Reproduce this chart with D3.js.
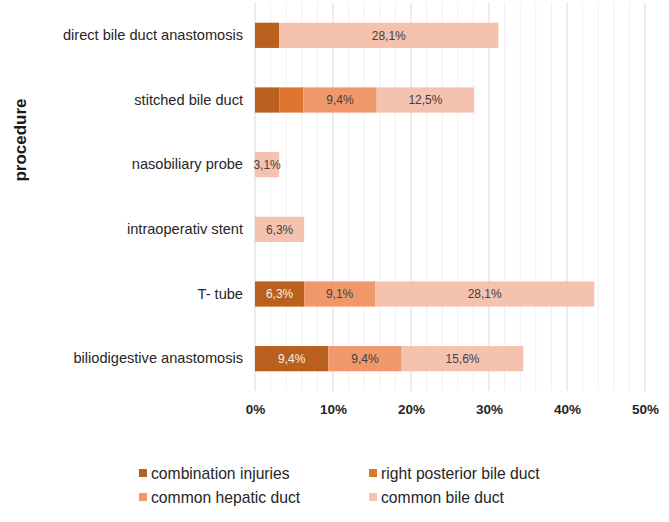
<!DOCTYPE html>
<html lang="en">
<head>
    <meta charset="UTF-8">
    <script src="https://d3js.org/d3.v7.min.js"></script>
    <title>Procedure by injury type</title>
    <style>
        body { margin: 0; background: #fff; }
        svg { display: block; font-family: Arial, "Liberation Sans", sans-serif; }
    </style>
</head>
<body>
    <svg width="669" height="522"></svg>

    <script>
        const procedures = ['direct bile duct anastomosis', 'stitched bile duct', 'nasobiliary probe',
            'intraoperativ stent', 'T- tube', 'biliodigestive anastomosis'];
        const seriesNames = ['combination injuries', 'right posterior bile duct', 'common hepatic duct', 'common bile duct'];
        const seriesColors = ['#B9601F', '#DF7630', '#F0986A', '#F6C2B0'];

        // values in percent, one array per series, in procedure order
        const combination = [3.1, 3.1, 0, 0, 6.3, 9.4];
        const rightPosterior = [0, 3.1, 0, 0, 0, 0];
        const commonHepatic = [0, 9.4, 0, 0, 9.1, 9.4];
        const commonBile = [28.1, 12.5, 3.1, 6.3, 28.1, 15.6];

        // which segments carry a value label
        const showLabel = [
            [false, false, false, false, true, true],
            [false, false, false, false, false, false],
            [false, true, false, false, true, true],
            [true, true, true, true, true, true]
        ];

        const xTicks = [0, 10, 20, 30, 40, 50];

        const values = [combination, rightPosterior, commonHepatic, commonBile];
        const rows = procedures.map((p, i) => {
            const row = { procedure: p };
            seriesNames.forEach((s, j) => row[s] = values[j][i]);
            return row;
        });
        const stacked = d3.stack().keys(seriesNames)(rows);

        const margin = { top: 3, left: 255, right: 24 };
        const plotBottom = 391;
        const fontFamily = 'Arial, "Liberation Sans", sans-serif';

        const svg = d3.select('svg');

        const x = d3.scaleLinear().domain([0, 50]).range([margin.left, 645]);
        const y = d3.scaleBand().domain(procedures).range([margin.top, plotBottom]).paddingInner(0.61).paddingOuter(0.305);

        // grid: minor every 2%, major every 10%
        svg.append('g')
            .selectAll('line')
            .data(d3.range(2, 51, 2).filter(v => v % 10 !== 0))
            .join('line')
            .attr('x1', d => x(d)).attr('x2', d => x(d))
            .attr('y1', margin.top).attr('y2', plotBottom)
            .attr('stroke', '#f0f0f0').attr('stroke-width', 1);

        svg.append('g')
            .selectAll('line')
            .data(xTicks)
            .join('line')
            .attr('x1', d => x(d)).attr('x2', d => x(d))
            .attr('y1', margin.top).attr('y2', plotBottom)
            .attr('stroke', '#d9d9d9').attr('stroke-width', 1);

        // bars
        svg.append('g')
            .selectAll('g')
            .data(stacked)
            .join('g')
            .attr('fill', (d, i) => seriesColors[i])
            .selectAll('rect')
            .data(d => d)
            .join('rect')
            .attr('x', d => x(d[0]))
            .attr('width', d => x(d[1]) - x(d[0]))
            .attr('y', d => y(d.data.procedure))
            .attr('height', y.bandwidth());

        // value labels
        stacked.forEach((layer, j) => {
            svg.append('g')
                .selectAll('text')
                .data(layer.filter((d, i) => showLabel[j][i]))
                .join('text')
                .attr('x', d => (x(d[0]) + x(d[1])) / 2)
                .attr('y', d => y(d.data.procedure) + y.bandwidth() / 2)
                .attr('dy', '0.35em')
                .attr('text-anchor', 'middle')
                .attr('font-size', 12)
                .attr('fill', j === 0 ? '#f2f2f2' : '#404040')
                .text(d => (d[1] - d[0]).toFixed(1).replace('.', ',') + '%');
        });

        // x axis labels
        const xAxis = d3.axisBottom(x)
            .tickValues(xTicks)
            .tickSize(0)
            .tickPadding(13)
            .tickFormat(d => d + '%');

        svg.append('g')
            .attr('transform', `translate(0, ${plotBottom})`)
            .call(xAxis)
            .call(g => g.select('.domain').remove())
            .call(g => g.selectAll('text')
                .attr('font-size', 13.5)
                .attr('font-weight', 'bold')
                .attr('font-family', fontFamily)
                .attr('fill', '#262626'));

        // y axis labels
        const yAxis = d3.axisLeft(y).tickSize(0).tickPadding(12);
        svg.append('g')
            .attr('transform', `translate(${margin.left}, 0)`)
            .call(yAxis)
            .call(g => g.select('.domain').remove())
            .call(g => g.selectAll('text')
                .attr('font-size', 14.6)
                .attr('font-family', fontFamily)
                .attr('fill', '#262626'));

        svg.append('text')
            .attr('transform', `translate(20, 140) rotate(-90)`)
            .attr('text-anchor', 'middle')
            .attr('dy', '0.35em')
            .attr('font-size', 17)
            .attr('font-weight', 'bold')
            .attr('fill', '#1a1a1a')
            .text('procedure');

        // legend
        const legendPos = [[139, 473], [369, 473], [139, 497], [369, 497]];
        const legend = svg.append('g')
            .selectAll('g')
            .data(seriesNames)
            .join('g')
            .attr('transform', (d, i) => `translate(${legendPos[i][0]}, ${legendPos[i][1]})`);

        legend.append('rect')
            .attr('x', 0).attr('y', -4)
            .attr('width', 8).attr('height', 8)
            .attr('fill', (d, i) => seriesColors[i]);

        legend.append('text')
            .attr('x', 12)
            .attr('dy', '0.35em')
            .attr('font-size', 15.7)
            .attr('fill', '#262626')
            .text(d => d);
    </script>
</body>
</html>
